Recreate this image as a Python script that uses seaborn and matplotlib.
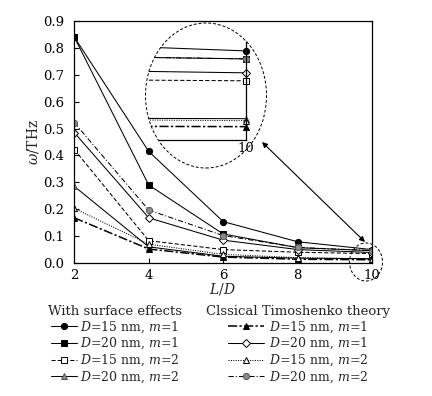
import matplotlib.pyplot as plt
import pandas as pd
import seaborn as sns
from matplotlib.lines import Line2D
from matplotlib.patches import Ellipse

sns.set_theme(style="ticks")
plt.rcParams["font.family"] = ["DejaVu Serif"]
plt.rcParams["mathtext.fontset"] = "dejavuserif"

W, H = 432, 396

# L/D values on the x axis
ld = [2, 4, 6, 8, 10]

# natural frequency (THz), with surface effects
surf_d15_m1 = [0.840, 0.415, 0.154, 0.079, 0.050]
surf_d20_m1 = [0.840, 0.290, 0.108, 0.057, 0.046]
surf_d15_m2 = [0.422, 0.083, 0.050, 0.040, 0.035]
surf_d20_m2 = [0.285, 0.060, 0.025, 0.018, 0.016]

# natural frequency (THz), classical Timoshenko theory
cls_d15_m1 = [0.168, 0.052, 0.022, 0.014, 0.012]
cls_d20_m1 = [0.485, 0.168, 0.085, 0.050, 0.039]
cls_d15_m2 = [0.203, 0.070, 0.032, 0.020, 0.015]
cls_d20_m2 = [0.522, 0.197, 0.102, 0.058, 0.046]

labels = [
    "$D$=15 nm, $m$=1",
    "$D$=20 nm, $m$=1",
    "$D$=15 nm, $m$=2",
    "$D$=20 nm, $m$=2",
]

GRAY = "#8a8a8a"
series = [
    ("s1", surf_d15_m1, dict(ls="-", marker="o", mfc="black", ms=4.5)),
    ("s2", surf_d20_m1, dict(ls="-", marker="s", mfc="black", ms=4.5)),
    ("s3", surf_d15_m2, dict(ls=(0, (4, 2)), marker="s", mfc="white", ms=4)),
    ("s4", surf_d20_m2, dict(ls="-", marker="^", mfc=GRAY, ms=5)),
    ("c1", cls_d15_m1, dict(ls=(0, (6, 1.5, 1.5, 1.5)), marker="^", mfc="black", ms=5, lw=1.1)),
    ("c2", cls_d20_m1, dict(ls="-", marker="D", mfc="white", ms=3.8)),
    ("c3", cls_d15_m2, dict(ls=(0, (1, 1.3)), marker="^", mfc="white", ms=4.5)),
    ("c4", cls_d20_m2, dict(ls=(0, (5, 2, 1, 2)), marker="o", mfc=GRAY, ms=4.5)),
]

df = pd.concat(
    [pd.DataFrame({"ld": ld, "omega": vals, "series": name}) for name, vals, _ in series]
)


def draw(ax):
    for name, _, st in series:
        sns.lineplot(
            data=df[df["series"] == name],
            x="ld",
            y="omega",
            ax=ax,
            color="black",
            linestyle=st["ls"],
            linewidth=st.get("lw", 0.75),
            marker=st["marker"],
            markersize=st["ms"],
            markerfacecolor=st["mfc"],
            markeredgecolor="black" if st["mfc"] != GRAY else "#555555",
            markeredgewidth=0.7,
            errorbar=None,
            legend=False,
        )


fig = plt.figure(figsize=(W / 100, H / 100), dpi=100)

# main axes
x0, x1, y0, y1 = 74.3, 372, 21, 263
ax = fig.add_axes([x0 / W, 1 - y1 / H, (x1 - x0) / W, (y1 - y0) / H])
draw(ax)
ax.set_xlim(2, 10)
ax.set_ylim(0, 0.9)
ax.set_xticks([2, 4, 6, 8, 10])
ax.set_yticks([i / 10 for i in range(10)])
ax.set_yticklabels([f"{i / 10:.1f}" for i in range(10)])
ax.tick_params(direction="in", length=3.5, width=0.8, labelsize=9.5, pad=7,
               colors="black", top=False, right=False)
ax.tick_params(axis="x", pad=4)
for sp in ax.spines.values():
    sp.set_linewidth(0.9)
    sp.set_color("black")
ax.set_xlabel("$L/D$", fontsize=10)
ax.set_ylabel("$\\omega$/THz", fontsize=10)
ax.xaxis.set_label_coords((222 - x0) / (x1 - x0), -(281 - y1) / (y1 - y0))
ax.yaxis.set_label_coords(-(x0 - 41) / (x1 - x0), 0.5)

# zoomed inset near L/D = 10
ell_c = (206 / W, 1 - 95.5 / H)
ell_w, ell_h = 121 / W, 145 / H
clip_ell = Ellipse(ell_c, ell_w, ell_h, transform=fig.transFigure)

ix0, ix1, iy0, iy1 = 146, 246, 23, 140
ax_in = fig.add_axes([ix0 / W, 1 - iy1 / H, (ix1 - ix0) / W, (iy1 - iy0) / H])
ax_in.patch.set_alpha(0)
draw(ax_in)
ax_in.set_xlim(9.87, 10.0)
ax_in.set_ylim(0.0053, 0.064)
ax_in.set_xticks([10])
ax_in.set_xticklabels(["10"])
ax_in.set_yticks([])
ax_in.set_xlabel("")
ax_in.set_ylabel("")
ax_in.tick_params(axis="x", length=0, pad=1.5, labelsize=9.5, colors="black")
ax_in.spines["top"].set_visible(False)
ax_in.spines["left"].set_visible(False)
for side in ["bottom", "right"]:
    ax_in.spines[side].set_linewidth(0.9)
    ax_in.spines[side].set_color("black")
    ax_in.spines[side].set_clip_path(clip_ell)
for line in ax_in.lines:
    line.set_clip_path(clip_ell)
    line.set_clip_box(None)

fig.add_artist(Ellipse(ell_c, ell_w, ell_h, transform=fig.transFigure, fill=False,
                       ec="black", lw=0.7, ls=(0, (3, 2))))
fig.add_artist(Ellipse((366 / W, 1 - 262 / H), 33 / W, 38 / H, transform=fig.transFigure,
                       fill=False, ec="black", lw=0.7, ls=(0, (3, 2))))
ax.annotate("", xy=(365, H - 242), xytext=(262, H - 142),
            xycoords="figure pixels", textcoords="figure pixels",
            arrowprops=dict(arrowstyle="<|-|>", lw=0.8, color="black",
                            mutation_scale=8, shrinkA=0, shrinkB=0))

# legends
def handle(st):
    return Line2D([], [], color="black", linestyle=st["ls"], linewidth=st.get("lw", 0.75),
                  marker=st["marker"], markersize=st["ms"], markerfacecolor=st["mfc"],
                  markeredgecolor="black" if st["mfc"] != GRAY else "#555555",
                  markeredgewidth=0.7)


leg_kw = dict(frameon=False, fontsize=9, title_fontsize=9.5, borderpad=0,
              borderaxespad=0, labelspacing=0.1, loc="upper left")
leg1 = fig.legend([handle(s[2]) for s in series[:4]], labels,
                  title="With surface effects", bbox_to_anchor=(48 / W, 1 - 305 / H),
                  handlelength=2.1, handletextpad=0.25, **leg_kw)
leg2 = fig.legend([handle(s[2]) for s in series[4:]], labels,
                  title="Clssical Timoshenko theory", bbox_to_anchor=(206 / W, 1 - 305 / H),
                  handlelength=2.9, handletextpad=0.4, **leg_kw)

fig.savefig("out.png", dpi=100)
